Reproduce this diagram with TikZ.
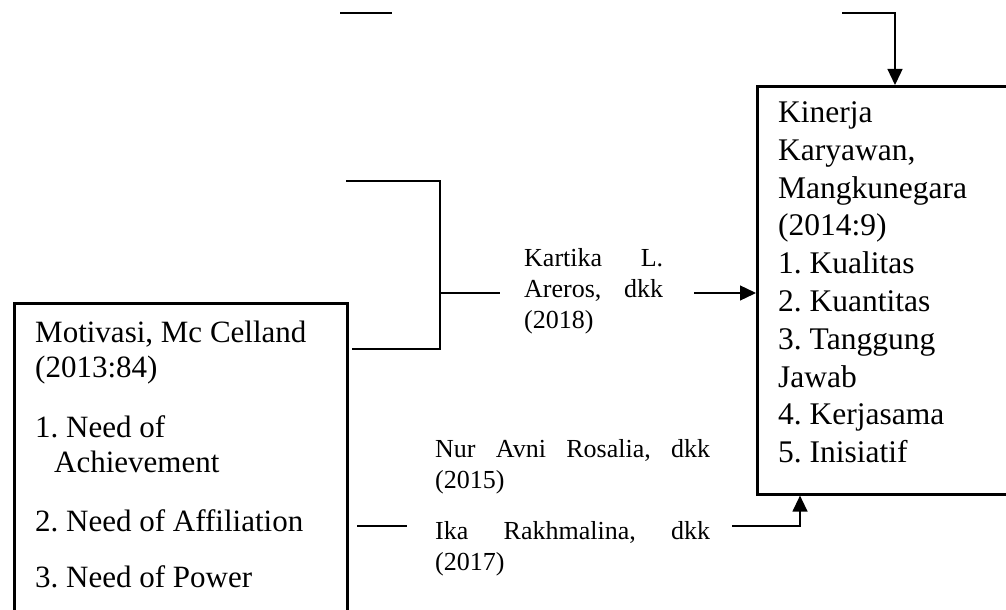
\documentclass[tikz,border=0pt]{standalone}
\usepackage{fontspec}
\setmainfont{Liberation Serif}
\frenchspacing
\usetikzlibrary{arrows.meta}

\tikzset{
  box/.style={draw, line width=2.6pt, inner sep=0pt},
  conn/.style={line width=1.3pt},
  arr/.style={conn, -{Triangle[length=16pt,width=15pt]}},
  boxtext/.style={anchor=north west, inner sep=0pt, align=left},
  citetext/.style={boxtext, font=\fontsize{26}{31}\selectfont},
}

\begin{document}
\begin{tikzpicture}[x=1pt,y=-1pt]
\path[use as bounding box, clip] (0,0) rectangle (1006,610);

\node[box, anchor=north west, minimum width=333pt, minimum height=340pt] (motiv) at (13,302) {};
\node[boxtext, font=\fontsize{31}{35}\selectfont] (motivtext) at (35,321) {Motivasi, Mc Celland\\(2013:84)\\[25pt]1. Need of\\\hspace*{19pt}Achievement\\[24pt]2. Need of Affiliation\\[21pt]3. Need of Power};

\node[box, anchor=north west, minimum width=270pt, minimum height=408pt] (kinerja) at (756,85) {};
\node[boxtext, font=\fontsize{31.5}{37.8}\selectfont] (kinerjatext) at (778,101.5) {Kinerja\\Karyawan,\\Mangkunegara\\(2014:9)\\1. Kualitas\\2. Kuantitas\\3. Tanggung\\Jawab\\4. Kerjasama\\5. Inisiatif};

\node[citetext, text width=139pt] (kartika) at (524,248) {Kartika\hfill L.\\Areros,\hfill dkk\\(2018)};
\node[citetext, text width=275pt] (nur) at (435,439) {Nur\hfill Avni\hfill Rosalia,\hfill dkk\\(2015)};
\node[citetext, text width=275pt] (ika) at (435,521) {Ika\hfill Rakhmalina,\hfill dkk\\(2017)};

\coordinate (topleft) at (340,13);
\coordinate (topright) at (842,13);
\coordinate (brtop) at (346,181);
\coordinate (brbot) at (352,349);
\coordinate (brmid) at (440,293);
\coordinate (kartout) at (694,293);
\coordinate (affil) at (357,526);
\coordinate (ikaout) at (732,526);

\draw[conn] (topleft) -- ++(52,0);
\draw[arr] (topright) -| ([xshift=139pt]kinerja.north west);
\draw[conn] (brtop) -| (brmid) |- (brbot);
\draw[conn] (brmid) -- ++(60,0);
\draw[arr] (kartout) -- (kartout -| kinerja.west);
\draw[conn] (affil) -- ++(50,0);
\draw[arr] (ikaout) -| ([xshift=44pt]kinerja.south west);
\end{tikzpicture}
\end{document}
